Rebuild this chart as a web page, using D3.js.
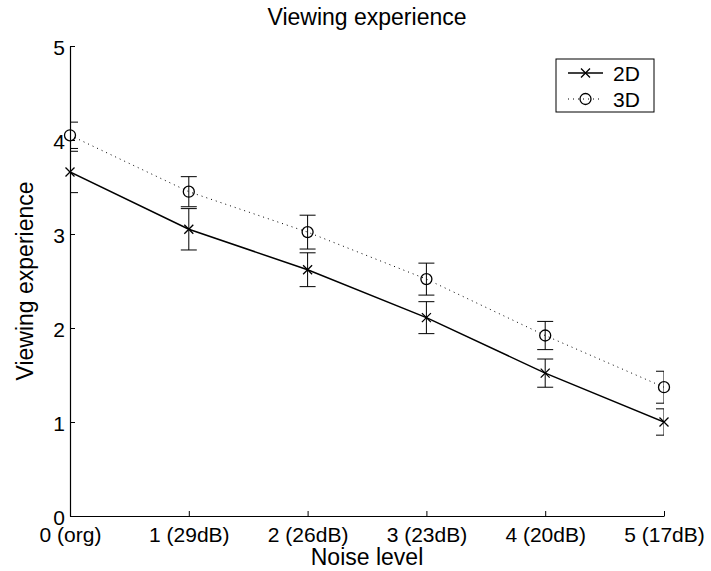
<!DOCTYPE html>
<html><head><meta charset="utf-8">
<script src="https://cdn.jsdelivr.net/npm/d3@7"></script>
<style>body{margin:0;background:#fff}svg{display:block}text{font-family:"Liberation Sans",Arial,sans-serif;fill:#000}</style>
</head><body><svg id="c" width="711" height="571"></svg>
<script>
const categories = [0, 1, 2, 3, 4, 5];
const tickLabels = ["0 (org)", "1 (29dB)", "2 (26dB)", "3 (23dB)", "4 (20dB)", "5 (17dB)"];
const yTicks = [0, 1, 2, 3, 4, 5];
const values2D = [3.66, 3.05, 2.62, 2.11, 1.52, 1.00];
const err2D = [0.22, 0.22, 0.18, 0.17, 0.15, 0.14];
const values3D = [4.05, 3.45, 3.02, 2.52, 1.92, 1.37];
const err3D = [0.14, 0.16, 0.18, 0.17, 0.15, 0.17];
const seriesNames = ["2D", "3D"];

const svg = d3.select("#c");
const m = {l: 70, r: 47, t: 46, b: 55};
const W = 711, H = 571;
const x = d3.scaleLinear().domain([0, 5]).range([m.l, W - m.r]);
const y = d3.scaleLinear().domain([0, 5]).range([H - m.b, m.t]);

svg.append("defs").append("clipPath").attr("id", "clip")
  .append("rect").attr("x", x(0)).attr("y", y(5) - 10).attr("width", x(5) - x(0)).attr("height", y(0) - y(5) + 20);

// axes
const xAxis = d3.axisBottom(x).tickValues(categories).tickFormat((d, i) => tickLabels[i]).tickSizeInner(-5).tickSizeOuter(0).tickPadding(11);
const gx = svg.append("g").attr("transform", `translate(0,${y(0)})`).call(xAxis);
const yAxis = d3.axisLeft(y).tickValues(yTicks).tickFormat(d3.format("d")).tickSizeInner(-5).tickSizeOuter(0).tickPadding(5);
const gy = svg.append("g").attr("transform", `translate(${x(0)},0)`).call(yAxis);
[gx, gy].forEach(g => {
  g.attr("font-size", 21).attr("font-family", "Liberation Sans, Arial, sans-serif");
  g.selectAll("path.domain").attr("stroke", "#000").attr("stroke-width", 1.2);
  g.selectAll("line").attr("stroke", "#000");
  g.selectAll("text").attr("font-size", 21);
});
gy.selectAll("text").attr("dy", "0.42em");

const plot = svg.append("g").attr("clip-path", "url(#clip)");

function drawSeries(vals, errs, dashed, marker) {
  const line = d3.line().x((d, i) => x(categories[i])).y(d => y(d));
  const cap = 8;
  vals.forEach((v, i) => {
    const cx = x(categories[i]);
    const g = plot.append("g").attr("stroke", "#000").attr("stroke-width", 1);
    g.append("line").attr("x1", cx).attr("x2", cx).attr("y1", y(v + errs[i])).attr("y2", y(v - errs[i]));
    g.append("line").attr("x1", cx - cap).attr("x2", cx + cap).attr("y1", y(v + errs[i])).attr("y2", y(v + errs[i]));
    g.append("line").attr("x1", cx - cap).attr("x2", cx + cap).attr("y1", y(v - errs[i])).attr("y2", y(v - errs[i]));
  });
  plot.append("path").datum(vals).attr("d", line).attr("fill", "none").attr("stroke", "#000")
    .attr("stroke-width", dashed ? 1 : 1.5).attr("stroke-dasharray", dashed ? "1,4" : null);
  vals.forEach((v, i) => {
    drawMarker(svg, marker, x(categories[i]), y(v));
  });
}
function drawMarker(g, marker, cx, cy) {
  if (marker === "x") {
    const s = 4.5;
    g.append("path").attr("d", `M${cx - s},${cy - s}L${cx + s},${cy + s}M${cx - s},${cy + s}L${cx + s},${cy - s}`)
      .attr("stroke", "#000").attr("stroke-width", 1.3).attr("fill", "none");
  } else {
    g.append("circle").attr("cx", cx).attr("cy", cy).attr("r", 5.5).attr("fill", "none").attr("stroke", "#000").attr("stroke-width", 1.3);
  }
}
drawSeries(values2D, err2D, false, "x");
drawSeries(values3D, err3D, true, "o");

// title & labels
svg.append("text").attr("x", (x(0) + x(5)) / 2).attr("y", 25).attr("text-anchor", "middle").attr("font-size", 23).text("Viewing experience");
svg.append("text").attr("x", (x(0) + x(5)) / 2).attr("y", 565).attr("text-anchor", "middle").attr("font-size", 23).text("Noise level");
svg.append("text").attr("transform", `translate(33,${(y(0) + y(5)) / 2}) rotate(-90)`).attr("text-anchor", "middle").attr("font-size", 23).text("Viewing experience");

// legend
const lg = svg.append("g");
lg.append("rect").attr("x", 556).attr("y", 59).attr("width", 98).attr("height", 53).attr("fill", "#fff").attr("stroke", "#000").attr("stroke-width", 1);
const rows = [{name: seriesNames[0], dashed: false, marker: "x", cy: 73}, {name: seriesNames[1], dashed: true, marker: "o", cy: 99}];
rows.forEach(r => {
  lg.append("line").attr("x1", 568).attr("x2", 603).attr("y1", r.cy).attr("y2", r.cy).attr("stroke", "#000")
    .attr("stroke-width", r.dashed ? 1 : 1.3).attr("stroke-dasharray", r.dashed ? "1,4" : null);
  drawMarker(lg, r.marker, 585.5, r.cy);
  lg.append("text").attr("x", 613).attr("y", r.cy + 7.5).attr("font-size", 21).text(r.name);
});
</script></body></html>
